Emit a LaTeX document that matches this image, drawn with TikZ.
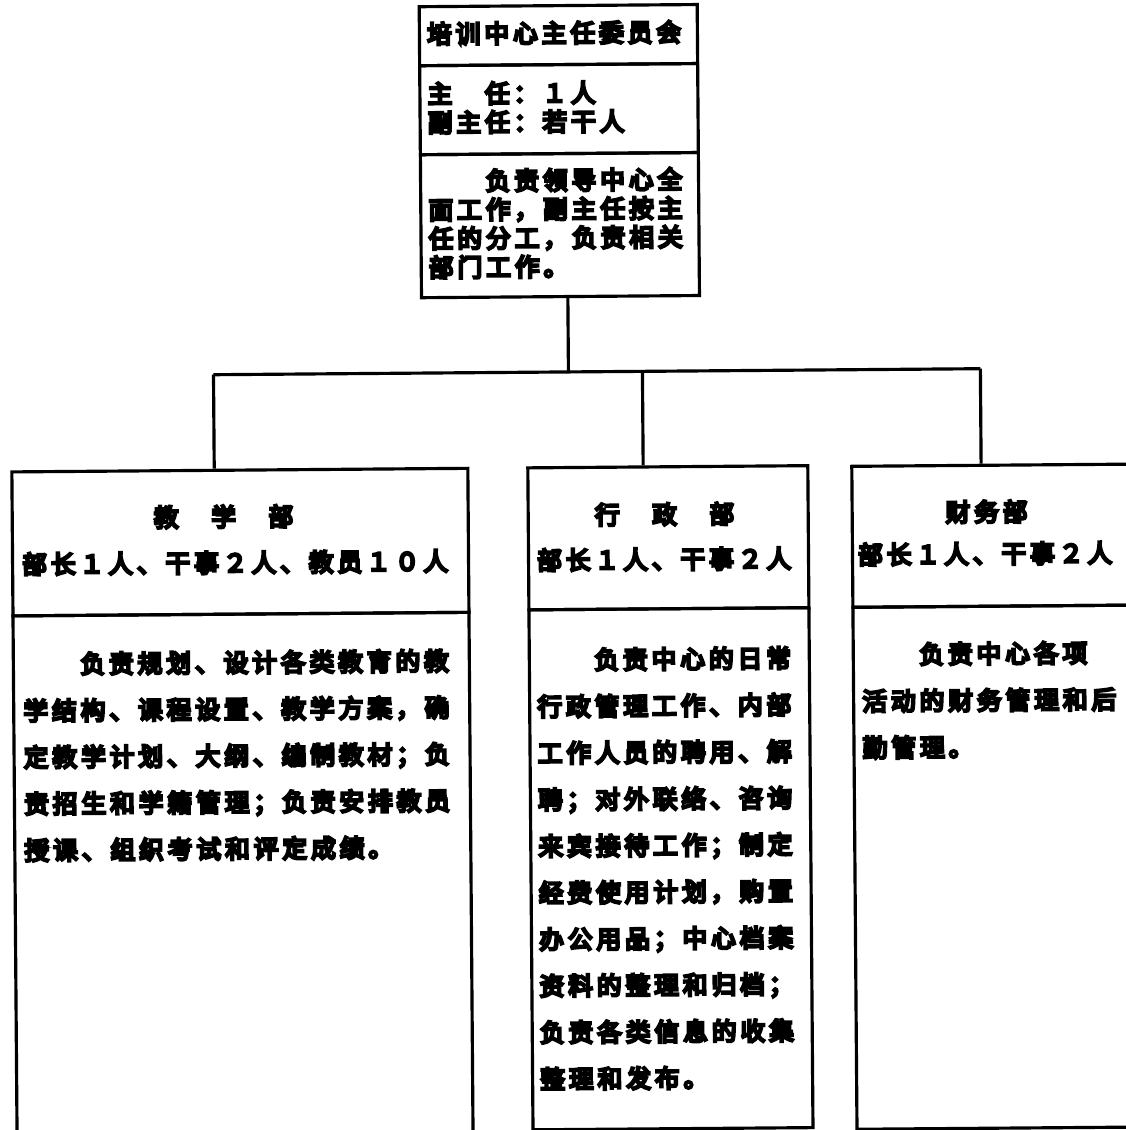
\documentclass[tikz,border=0pt]{standalone}
\usepackage{fontspec}
\setmainfont{Noto Sans CJK SC}[LetterSpace=16.5]
\usetikzlibrary{positioning}
% drop points on the bus
\def\xTrunk{570}
\def\xJxb{215}
\def\xXzb{644}
\def\xCwb{982}
\def\yBus{372}
% heavy type, as in the printed chart
\newcommand{\orgbold}{\special{pdf:literal direct 2 Tr 1.5 w}}
\tikzset{
  orgbox/.style={draw, line width=1.8pt, inner sep=0pt, anchor=north west},
  orgtxt/.style={font=\fontsize{14pt}{16.4pt}\selectfont\orgbold, inner sep=0pt, anchor=north west, align=left},
  orgbody/.style={orgtxt, font=\fontsize{14pt}{26.5pt}\selectfont\orgbold},
  orgline/.style={line width=1.8pt},
}
\newcommand{\orgpart}[5]{%
  \node[orgbox, minimum width=(#4-#2)*0.02cm, minimum height=(#5-#3)*0.02cm] (#1) at (#2,#3) {};}

\begin{document}
\begin{tikzpicture}[x=0.02cm, y=-0.02cm]
  \useasboundingbox (0,0) rectangle (1126,1130);
  \clip (0,0) rectangle (1126,1130);
  \begin{scope}[rotate around={0.45:(563,565)}, transform shape]
  % committee
  \orgpart{topTitle}{422}{4}{700}{63}
  \orgpart{topStaff}{422}{63}{700}{152}
  \orgpart{topDuty}{422}{152}{700}{295}
  \node[orgtxt] (topTitleTxt) at (431,21) {培训中心主任委员会};
  \node[orgtxt] (topStaffTxt) at (431,81) {主　任：１人\\副主任：若干人};
  \node[orgtxt] (topDutyTxt) at (431,168) {　　负责领导中心全\\面工作，副主任按主\\任的分工，负责相关\\部门工作。};

  % departments
  \orgpart{jxHead}{11}{466}{467}{610}
  \orgpart{jxBody}{11}{610}{467}{1250}
  \orgpart{xzHead}{527}{466}{807}{608}
  \orgpart{xzBody}{527}{608}{807}{1128}
  \orgpart{cwHead}{851}{467}{1250}{608}
  \orgpart{cwBody}{851}{608}{1250}{1130}

  \node[orgtxt, anchor=center] (jxName) at (224,514) {教　学　部};
  \node[orgtxt, anchor=west] (jxStaff) at (22,560) {部长１人、干事２人、教员１０人};
  \node[orgbody] (jxDuty) at (22,648) {　　负责规划、设计各类教育的教\\学结构、课程设置、教学方案，确\\定教学计划、大纲、编制教材；负\\责招生和学籍管理；负责安排教员\\授课、组织考试和评定成绩。};

  \node[orgtxt, anchor=center] (xzName) at (665,515) {行　政　部};
  \node[orgtxt, anchor=west] (xzStaff) at (537,560) {部长１人、干事２人};
  \node[orgbody] (xzDuty) at (536,648) {　　负责中心的日常\\行政管理工作、内部\\工作人员的聘用、解\\聘；对外联络、咨询\\来宾接待工作；制定\\经费使用计划，购置\\办公用品；中心档案\\资料的整理和归档；\\负责各类信息的收集\\整理和发布。};

  \node[orgtxt, anchor=center] (cwName) at (987,515) {财务部};
  \node[orgtxt, anchor=west] (cwStaff) at (858,557) {部长１人、干事２人};
  \node[orgbody] (cwDuty) at (861,645) {　　负责中心各项\\活动的财务管理和后\\勤管理。};

  % connectors
  \coordinate (trunk) at (\xTrunk,\yBus);
  \coordinate (busL) at (\xJxb,\yBus);
  \coordinate (busM) at (\xXzb,\yBus);
  \coordinate (busR) at (\xCwb,\yBus);
  \draw[orgline] (topDuty.south -| trunk) -- (trunk);
  \draw[orgline] (busL) -- (busR);
  \draw[orgline] (busL) -- (busL |- jxHead.north);
  \draw[orgline] (busM) -- (busM |- xzHead.north);
  \draw[orgline] (busR) -- (busR |- cwHead.north);
  \end{scope}
\end{tikzpicture}
\end{document}
